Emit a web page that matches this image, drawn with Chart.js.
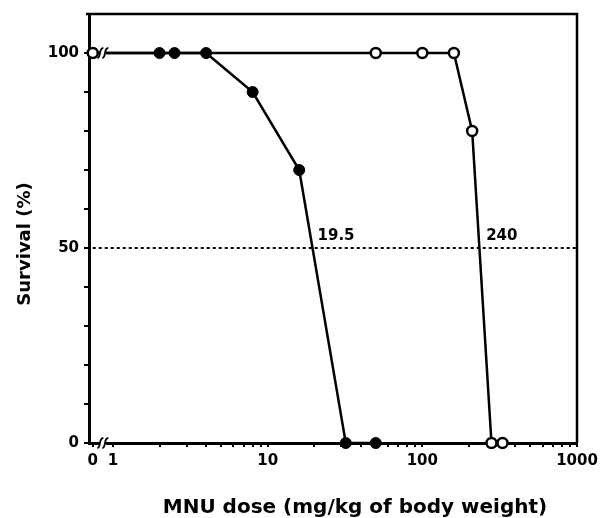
<!DOCTYPE html>
<html>
<head>
<meta charset="utf-8">
<script src="https://cdn.jsdelivr.net/npm/chart.js@4/dist/chart.umd.min.js"></script>
<style>
  html, body { margin: 0; padding: 0; background: #fff; }
</style>
</head>
<body>
<canvas id="myChart" width="603" height="518"></canvas>
<script>
// data (dose in mg/kg, survival in %)
const closedDose = [0, 2, 2.5, 4, 8, 16, 32, 50];
const closedSurvival = [100, 100, 100, 100, 90, 70, 0, 0];
const openDose = [0, 50, 100, 160, 210, 280, 330];
const openSurvival = [100, 100, 100, 100, 80, 0, 0];
const ld50Values = [19.5, 240];
const ld50Labels = ['19.5', '240'];
const halfLine = 50;
const xTickValues = [0, 1, 10, 100, 1000];
const xTickLabels = ['0', '1', '10', '100', '1000'];
const yTickLabels = [0, 50, 100];
const xTitle = 'MNU dose (mg/kg of body weight)';
const yTitle = 'Survival (%)';

const ZERO_POS = 0.74; // dose 0 is drawn here, left of the axis break
const FONT = '"DejaVu Sans", "Liberation Sans", Arial, sans-serif';

// dose 0 -> ZERO_POS on the log axis
function toPoints(doses, values) {
    return doses.map((d, i) => ({ x: d === 0 ? ZERO_POS : d, y: values[i] }));
}

// log ticks 1..9, 10..90, 100..900, 1000 plus the "0" spot
const xTicks = [ZERO_POS];
for (let dec = 1; dec < 1000; dec *= 10) {
    for (let k = 1; k < 10; k++) xTicks.push(k * dec);
}
xTicks.push(1000);

// frame, axis breaks, axis titles and LD50 labels
const extras = {
    id: 'extras',
    afterDatasetsDraw(chart) {
        const { ctx, chartArea, scales } = chart;
        const x = scales.x, y = scales.y;
        ctx.save();
        ctx.strokeStyle = '#000';
        ctx.lineWidth = 2.5;
        // top and right side of the box
        ctx.beginPath();
        ctx.moveTo(chartArea.left - 3, chartArea.top);
        ctx.lineTo(chartArea.right, chartArea.top);
        ctx.lineTo(chartArea.right, chartArea.bottom);
        ctx.stroke();

        // axis break marks between 0 and 1
        const bx = (x.getPixelForValue(ZERO_POS) + x.getPixelForValue(1)) / 2;
        [y.getPixelForValue(100), y.getPixelForValue(0)].forEach(by => {
            ctx.fillStyle = '#fff';
            ctx.fillRect(bx - 3, by - 2, 6, 4);
            ctx.lineWidth = 1.8;
            [-2.5, 2.5].forEach(off => {
                ctx.beginPath();
                ctx.moveTo(bx + off - 3, by + 5);
                ctx.bezierCurveTo(bx + off + 1, by + 5, bx + off - 2, by - 5, bx + off + 3, by - 5);
                ctx.stroke();
            });
        });

        ctx.fillStyle = '#000';
        // LD50 values next to the dotted line
        ctx.font = 'bold 15px ' + FONT;
        ctx.textAlign = 'left';
        ctx.textBaseline = 'alphabetic';
        ld50Values.forEach((v, i) => {
            ctx.fillText(ld50Labels[i], x.getPixelForValue(v) + 5, y.getPixelForValue(halfLine) - 8);
        });

        // axis titles
        ctx.textAlign = 'center';
        ctx.textBaseline = 'middle';
        ctx.font = 'bold 20px ' + FONT;
        ctx.fillText(xTitle, 355, 508);
        ctx.font = 'bold 18px ' + FONT;
        ctx.translate(25, 244);
        ctx.rotate(-Math.PI / 2);
        ctx.fillText(yTitle, 0, 0);
        ctx.restore();
    }
};

const ctx = document.getElementById('myChart').getContext('2d');
const myChart = new Chart(ctx, {
    type: 'line',
    data: {
        datasets: [
            {
                label: 'closed',
                data: toPoints(closedDose, closedSurvival),
                borderColor: '#000',
                borderWidth: 2.5,
                pointRadius: 5.5,
                pointBackgroundColor: '#000',
                pointBorderColor: '#000',
                pointBorderWidth: 1,
                clip: false,
                order: 2
            },
            {
                label: 'open',
                data: toPoints(openDose, openSurvival),
                borderColor: '#000',
                borderWidth: 2.5,
                pointRadius: 5,
                pointBackgroundColor: '#fff',
                pointBorderColor: '#000',
                pointBorderWidth: 2.5,
                clip: false,
                order: 1
            },
            {
                label: 'half',
                data: [{ x: ZERO_POS, y: halfLine }, { x: 1000, y: halfLine }],
                borderColor: '#000',
                borderWidth: 2,
                borderDash: [3, 3],
                pointRadius: 0,
                order: 3
            }
        ]
    },
    options: {
        responsive: false,
        animation: false,
        layout: { padding: { top: 11, right: 26, left: 0, bottom: 0 } },
        plugins: {
            legend: { display: false },
            tooltip: { enabled: false }
        },
        scales: {
            x: {
                type: 'logarithmic',
                min: ZERO_POS,
                max: 1000,
                afterBuildTicks: scale => {
                    scale.ticks = xTicks.map(v => ({ value: v }));
                },
                afterFit: scale => { scale.height = 75; },
                border: { display: true, color: '#000', width: 3 },
                grid: { drawOnChartArea: false, drawTicks: true, tickLength: 4, color: '#000', lineWidth: 2 },
                ticks: {
                    autoSkip: false,
                    maxRotation: 0,
                    padding: 5,
                    color: '#000',
                    font: { family: FONT, size: 15, weight: 'bold' },
                    callback: value => {
                        const dose = value === ZERO_POS ? 0 : value;
                        const idx = xTickValues.indexOf(dose);
                        return idx >= 0 ? xTickLabels[idx] : '';
                    }
                }
            },
            y: {
                min: 0,
                max: 110,
                afterBuildTicks: scale => {
                    scale.ticks = scale.ticks.filter(t => t.value <= 100);
                },
                afterFit: scale => { scale.width = 89; },
                border: { display: true, color: '#000', width: 3 },
                grid: { drawOnChartArea: false, drawTicks: true, tickLength: 5, color: '#000', lineWidth: 2 },
                ticks: {
                    stepSize: 10,
                    padding: 5,
                    color: '#000',
                    font: { family: FONT, size: 15, weight: 'bold' },
                    callback: value => yTickLabels.includes(value) ? String(value) : ''
                }
            }
        }
    },
    plugins: [extras]
});
</script>
</body>
</html>
